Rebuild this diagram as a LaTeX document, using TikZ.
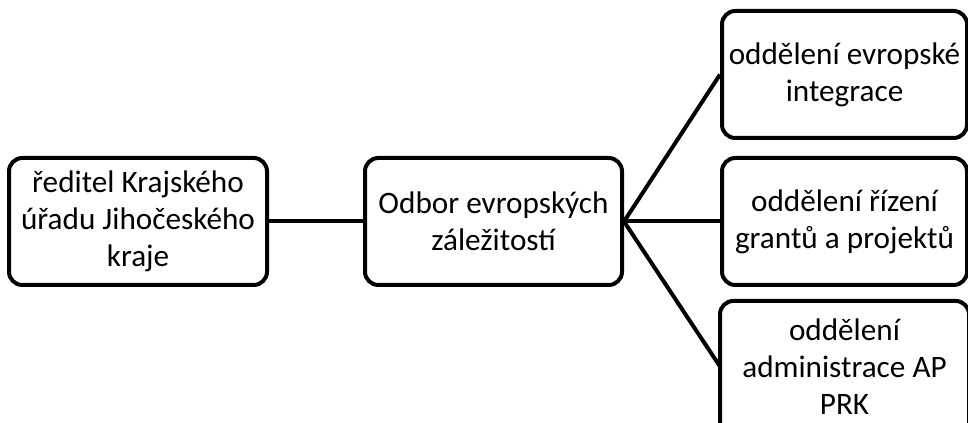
\documentclass[tikz,border=0pt]{standalone}
\usepackage{fontspec}
\setmainfont{Carlito}
\usepackage{tikz}

\tikzset{
  orgbox/.style={draw, line width=3pt, rounded corners=10pt, align=center,
    inner sep=0pt, minimum height=95.25pt,
    font=\fontsize{23.4}{27.75}\selectfont},
  orgline/.style={line width=3pt}
}

\begin{document}
\begin{tikzpicture}[x=0.75pt,y=0.75pt,yscale=-1]
        \useasboundingbox (0,0) rectangle (968,423);

        % Text Node
        \node (reditel) [orgbox, minimum width=193.5pt] at (138,221.5) {ředitel Krajského\\úřadu Jihočeského\\kraje};
        % Text Node
        \node (odbor) [orgbox, minimum width=192.75pt] at (493.5,221.5) {Odbor evropských\\záležitostí};
        % Text Node
        \node (integrace) [orgbox, minimum width=183.75pt] at (844.5,74.5) {oddělení evropské\\integrace};
        % Text Node
        \node (granty) [orgbox, minimum width=183.75pt] at (844.5,221.5) {oddělení řízení\\grantů a projektů};
        % Text Node (box runs off the lower edge)
        \node (admin) [orgbox, draw=none, minimum width=183.75pt] at (844.5,366.5) {oddělení\\administrace AP\\PRK};
        \draw [orgline, rounded corners=10pt] (admin.north west) rectangle ([shift={(0,40)}]admin.south east);

        %Straight Lines
        \draw [orgline] (reditel.east) -- (odbor.west);
        \draw [orgline] (odbor.east) -- (integrace.west);
        \draw [orgline] (odbor.east) -- (granty.west);
        \draw [orgline] (odbor.east) -- (admin.west);
\end{tikzpicture}
\end{document}
